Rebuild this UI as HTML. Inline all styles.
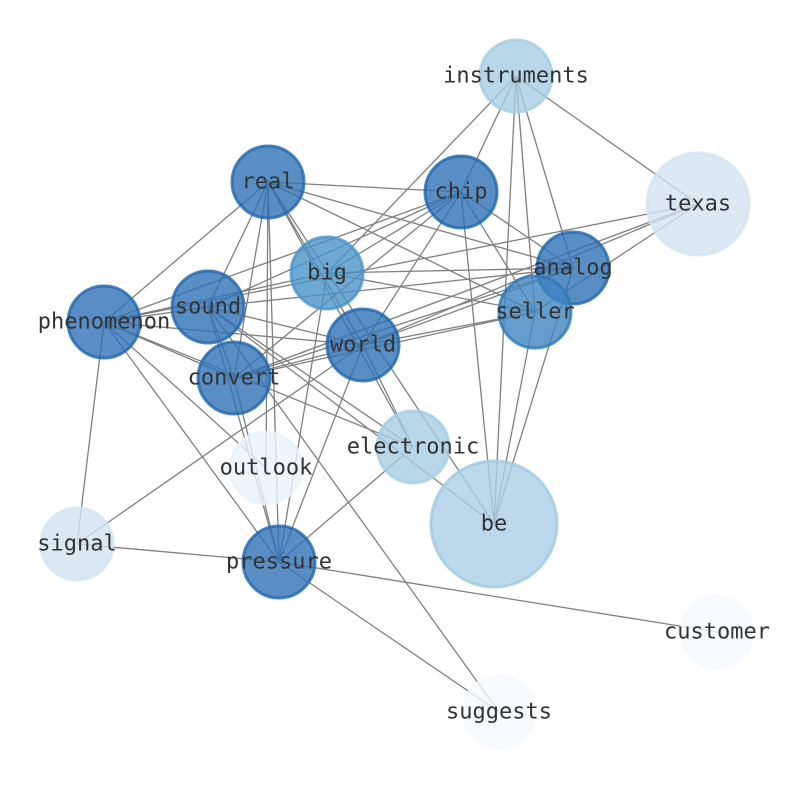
<!DOCTYPE html>
<html><head><meta charset="utf-8"><style>body{margin:0;background:#fff}</style></head><body>
<svg width="794" height="790" xmlns="http://www.w3.org/2000/svg">
<g stroke="#808080" stroke-width="1.3">
<line x1="516" y1="76" x2="461" y2="192"/><line x1="516" y1="76" x2="327" y2="273"/><line x1="516" y1="76" x2="698" y2="204"/><line x1="516" y1="76" x2="573" y2="268"/><line x1="516" y1="76" x2="535" y2="312"/><line x1="516" y1="76" x2="494" y2="524"/>
<line x1="698" y1="204" x2="104" y2="322"/><line x1="698" y1="204" x2="363" y2="345"/><line x1="698" y1="204" x2="234" y2="378"/><line x1="698" y1="204" x2="535" y2="312"/>
<line x1="268" y1="182" x2="461" y2="192"/><line x1="268" y1="182" x2="573" y2="268"/><line x1="268" y1="182" x2="535" y2="312"/><line x1="268" y1="182" x2="363" y2="345"/><line x1="268" y1="182" x2="413" y2="447"/><line x1="268" y1="182" x2="494" y2="524"/><line x1="268" y1="182" x2="104" y2="322"/><line x1="268" y1="182" x2="208" y2="307"/><line x1="268" y1="182" x2="234" y2="378"/><line x1="268" y1="182" x2="279" y2="562"/><line x1="268" y1="182" x2="266" y2="468"/>
<line x1="461" y1="192" x2="327" y2="273"/><line x1="461" y1="192" x2="208" y2="307"/><line x1="461" y1="192" x2="104" y2="322"/><line x1="461" y1="192" x2="234" y2="378"/><line x1="461" y1="192" x2="363" y2="345"/><line x1="461" y1="192" x2="573" y2="268"/><line x1="461" y1="192" x2="535" y2="312"/><line x1="461" y1="192" x2="494" y2="524"/>
<line x1="573" y1="268" x2="327" y2="273"/><line x1="573" y1="268" x2="208" y2="307"/><line x1="573" y1="268" x2="234" y2="378"/><line x1="573" y1="268" x2="363" y2="345"/><line x1="573" y1="268" x2="494" y2="524"/>
<line x1="535" y1="312" x2="327" y2="273"/><line x1="535" y1="312" x2="363" y2="345"/><line x1="535" y1="312" x2="234" y2="378"/><line x1="535" y1="312" x2="494" y2="524"/>
<line x1="327" y1="273" x2="104" y2="322"/><line x1="327" y1="273" x2="279" y2="562"/>
<line x1="208" y1="307" x2="104" y2="322"/><line x1="208" y1="307" x2="234" y2="378"/><line x1="208" y1="307" x2="363" y2="345"/><line x1="208" y1="307" x2="413" y2="447"/><line x1="208" y1="307" x2="279" y2="562"/><line x1="208" y1="307" x2="499" y2="712"/><line x1="208" y1="307" x2="494" y2="524"/>
<line x1="104" y1="322" x2="234" y2="378"/><line x1="104" y1="322" x2="363" y2="345"/><line x1="104" y1="322" x2="413" y2="447"/><line x1="104" y1="322" x2="279" y2="562"/><line x1="104" y1="322" x2="77" y2="544"/><line x1="104" y1="322" x2="266" y2="468"/>
<line x1="234" y1="378" x2="279" y2="562"/><line x1="234" y1="378" x2="363" y2="345"/>
<line x1="363" y1="345" x2="279" y2="562"/><line x1="363" y1="345" x2="77" y2="544"/><line x1="363" y1="345" x2="413" y2="447"/>
<line x1="77" y1="544" x2="279" y2="562"/><line x1="279" y1="562" x2="717" y2="632"/><line x1="279" y1="562" x2="499" y2="712"/><line x1="279" y1="562" x2="413" y2="447"/>
</g>
<g stroke-width="3" fill-opacity="0.8" stroke-opacity="0.8">
<circle cx="516" cy="76" r="36" fill="#a6cde3" stroke="#a6cde3"/>
<circle cx="698" cy="204" r="51" fill="#d2e3f3" stroke="#d2e3f3"/>
<circle cx="268" cy="182" r="36" fill="#3072b6" stroke="#1f66ad"/>
<circle cx="461" cy="192" r="36" fill="#3072b6" stroke="#1f66ad"/>
<circle cx="573" cy="268" r="36" fill="#3072b6" stroke="#1f66ad"/>
<circle cx="327" cy="273" r="36" fill="#4a94c8" stroke="#4a94c8"/>
<circle cx="208" cy="307" r="36" fill="#3072b6" stroke="#1f66ad"/>
<circle cx="104" cy="322" r="36" fill="#3072b6" stroke="#1f66ad"/>
<circle cx="535" cy="312" r="36" fill="#3f86c0" stroke="#2f78b8"/>
<circle cx="363" cy="345" r="36" fill="#3072b6" stroke="#1f66ad"/>
<circle cx="234" cy="378" r="36" fill="#3072b6" stroke="#1f66ad"/>
<circle cx="413" cy="447" r="36" fill="#a6cde3" stroke="#a6cde3"/>
<circle cx="266" cy="468" r="36" fill="#eaf2fa" stroke="#eaf2fa"/>
<circle cx="494" cy="524" r="63" fill="#abd0e6" stroke="#a0c9e2"/>
<circle cx="77" cy="544" r="36" fill="#d2e3f3" stroke="#d2e3f3"/>
<circle cx="279" cy="562" r="36" fill="#3072b6" stroke="#1f66ad"/>
<circle cx="717" cy="632" r="36" fill="#f5f9fe" stroke="#f5f9fe"/>
<circle cx="499" cy="712" r="36" fill="#f5f9fe" stroke="#f5f9fe"/>
</g>
<g font-family="'DejaVu Sans Mono','Liberation Mono',monospace" font-size="22" fill="#333" text-anchor="middle" dominant-baseline="central">
<text x="516" y="76">instruments</text><text x="698" y="204">texas</text><text x="268" y="182">real</text><text x="461" y="192">chip</text><text x="573" y="268">analog</text><text x="327" y="273">big</text><text x="208" y="307">sound</text><text x="104" y="322">phenomenon</text><text x="535" y="312">seller</text><text x="363" y="345">world</text><text x="234" y="378">convert</text><text x="413" y="447">electronic</text><text x="266" y="468">outlook</text><text x="494" y="524">be</text><text x="77" y="544">signal</text><text x="279" y="562">pressure</text><text x="717" y="632">customer</text><text x="499" y="712">suggests</text>
</g>
</svg>
</body></html>
